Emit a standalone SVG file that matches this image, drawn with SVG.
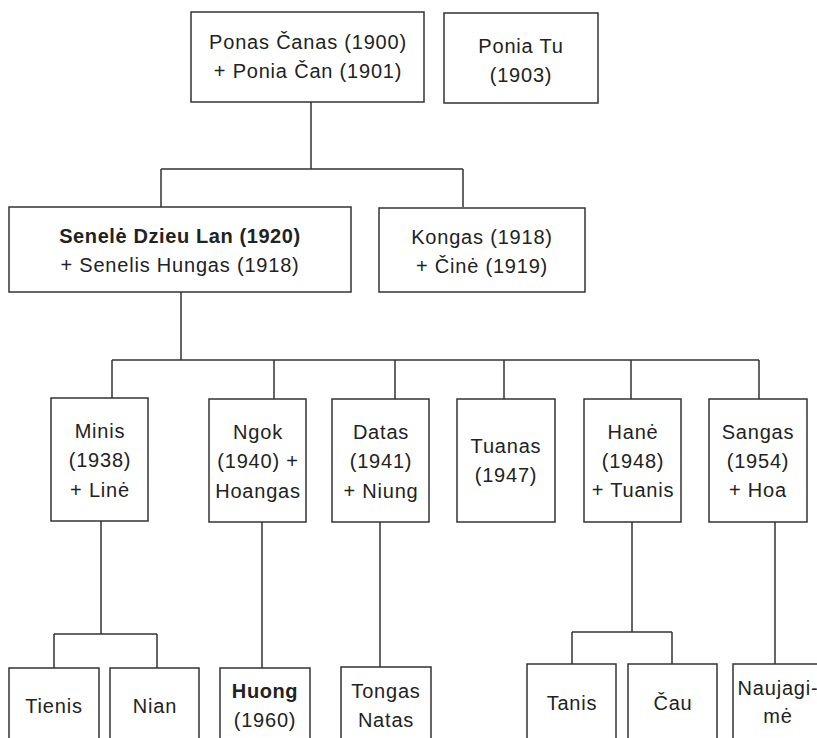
<svg xmlns="http://www.w3.org/2000/svg" width="817" height="738" viewBox="0 0 817 738">
<style>
rect{fill:#fff;stroke:#333;stroke-width:1.5}
text{font-family:"Liberation Sans",Arial,sans-serif;font-size:20px;fill:#222;text-anchor:middle;letter-spacing:0.8px}
.b{font-weight:bold;letter-spacing:0.6px}
#connectors path{fill:none;stroke:#333;stroke-width:1.5}
</style>
<rect width="817" height="738" style="fill:#fff;stroke:none"/>
<g id="connectors">
<path d="M311 101V169M161 169H463M161 169V207M463 169V207"/>
<path d="M181 292V360M112 360H759M112 360V398M274 360V399M395 360V399M504 360V399M631 360V399M759 360V399"/>
<path d="M101 521V634M54 634H157M54 634V668M157 634V668"/>
<path d="M262 522V668M380 522V667"/>
<path d="M632 522V632M572 632H672M572 632V664M672 632V664"/>
<path d="M775 522V664"/>
</g>
<g id="n-canas"><rect x="191" y="12" width="233" height="90"/><text x="308" y="49">Ponas Čanas (1900)</text><text x="308" y="78">+ Ponia Čan (1901)</text></g>
<g id="n-tu"><rect x="444" y="13" width="154" height="90"/><text x="521" y="53">Ponia Tu</text><text x="521" y="82">(1903)</text></g>
<g id="n-dzieu"><rect x="9" y="207" width="342" height="85"/><text class="b" x="180" y="243">Senelė Dzieu Lan (1920)</text><text x="180" y="272">+ Senelis Hungas (1918)</text></g>
<g id="n-kongas"><rect x="379" y="208" width="206" height="84"/><text x="482" y="244">Kongas (1918)</text><text x="482" y="273">+ Činė (1919)</text></g>
<g id="n-minis"><rect x="51" y="398" width="97" height="123"/><text x="100" y="438">Minis</text><text x="100" y="467">(1938)</text><text x="100" y="497">+ Linė</text></g>
<g id="n-ngok"><rect x="209" y="399" width="97" height="123"/><text x="258" y="439">Ngok</text><text x="258" y="468">(1940) +</text><text x="258" y="498">Hoangas</text></g>
<g id="n-datas"><rect x="332" y="399" width="97" height="123"/><text x="381" y="439">Datas</text><text x="381" y="468">(1941)</text><text x="381" y="498">+ Niung</text></g>
<g id="n-tuanas"><rect x="457" y="399" width="98" height="123"/><text x="506" y="453">Tuanas</text><text x="506" y="482">(1947)</text></g>
<g id="n-hane"><rect x="584" y="399" width="97" height="123"/><text x="633" y="439">Hanė</text><text x="633" y="468">(1948)</text><text x="633" y="497">+ Tuanis</text></g>
<g id="n-sangas"><rect x="709" y="399" width="98" height="123"/><text x="758" y="439">Sangas</text><text x="758" y="468">(1954)</text><text x="758" y="497">+ Hoa</text></g>
<g id="n-tienis"><rect x="9" y="668" width="90" height="90"/><text x="54" y="713">Tienis</text></g>
<g id="n-nian"><rect x="110" y="668" width="89" height="90"/><text x="155" y="713">Nian</text></g>
<g id="n-huong"><rect x="220" y="668" width="90" height="90"/><text class="b" x="265" y="698">Huong</text><text x="265" y="727">(1960)</text></g>
<g id="n-tongas"><rect x="341" y="667" width="90" height="90"/><text x="386" y="698">Tongas</text><text x="386" y="727">Natas</text></g>
<g id="n-tanis"><rect x="527" y="664" width="89" height="90"/><text x="572" y="710">Tanis</text></g>
<g id="n-cau"><rect x="628" y="664" width="89" height="90"/><text x="673" y="710">Čau</text></g>
<g id="n-naujagime"><rect x="733" y="664" width="90" height="90"/><text x="778" y="695">Naujagi-</text><text x="778" y="723">mė</text></g>
</svg>
